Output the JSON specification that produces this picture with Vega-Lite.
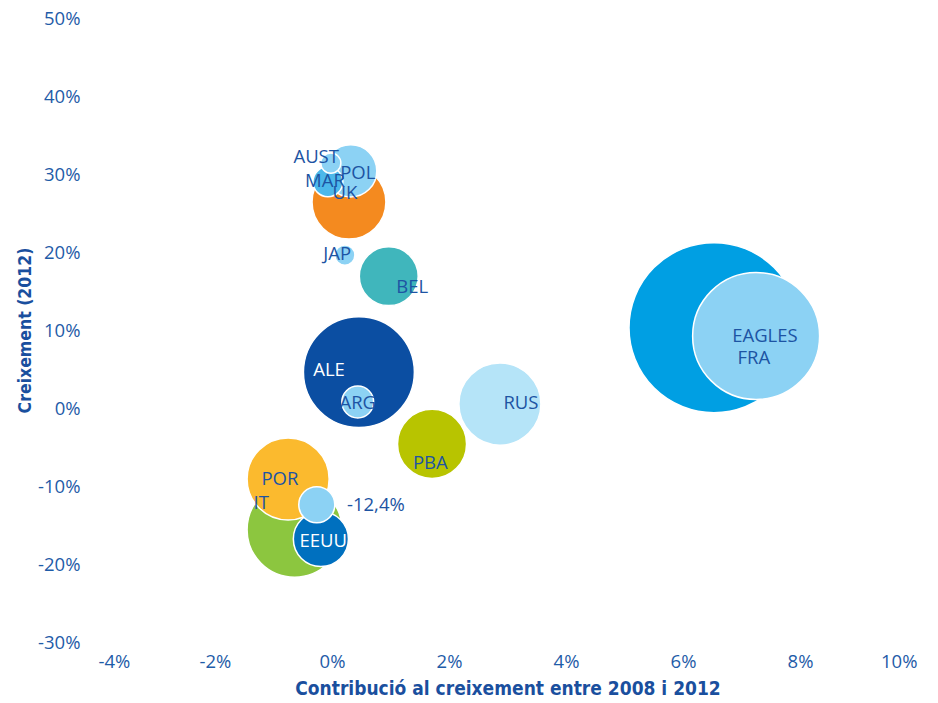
{
  "$schema": "https://vega.github.io/schema/vega-lite/v6.json",
  "width": 819,
  "height": 624,
  "autosize": {"type": "none"},
  "padding": {"left": 98, "top": 18, "right": 21, "bottom": 61},
  "background": "white",
  "config": {
    "view": {"stroke": null},
    "axis": {"grid": false, "domain": false, "ticks": false, "labelFont": "Open Sans", "labelFontSize": 18.5, "labelColor": "#1f5ca8", "titleFont": "DejaVu Sans Condensed", "titleFontWeight": "bold", "titleColor": "#1a4f9e"}
  },
  "datasets": {
    "bubbles": [
      {"name": "EAGLES", "x": 6.53, "y": 10.3, "pes": 100, "lx": 7.4, "ly": 9.23, "label": "EAGLES"},
      {"name": "FRA", "x": 7.25, "y": 9.23, "pes": 55.8, "lx": 7.21, "ly": 6.41, "label": "FRA"},
      {"name": "ALE", "x": 0.46, "y": 4.6, "pes": 42.6, "lx": -0.05, "ly": 4.87, "label": "ALE"},
      {"name": "IT", "x": -0.64, "y": -15.6, "pes": 31.2, "lx": -1.21, "ly": -12.2, "label": "IT"},
      {"name": "RUS", "x": 2.87, "y": 0.5, "pes": 23.3, "lx": 3.23, "ly": 0.64, "label": "RUS"},
      {"name": "POR", "x": -0.75, "y": -9.1, "pes": 23.3, "lx": -0.89, "ly": -9.1, "label": "POR"},
      {"name": "UK", "x": 0.29, "y": 26.4, "pes": 18.9, "lx": 0.22, "ly": 27.6, "label": "UK"},
      {"name": "PBA", "x": 1.71, "y": -4.6, "pes": 16.5, "lx": 1.68, "ly": -7.05, "label": "PBA"},
      {"name": "BEL", "x": 0.97, "y": 16.9, "pes": 12.0, "lx": 1.37, "ly": 15.5, "label": "BEL"},
      {"name": "EEUU", "x": -0.19, "y": -16.8, "pes": 10.5, "lx": -0.15, "ly": -17.05, "label": "EEUU"},
      {"name": "POL", "x": 0.32, "y": 30.4, "pes": 9.4, "lx": 0.44, "ly": 30.1, "label": "POL"},
      {"name": "ESP", "x": -0.26, "y": -12.4, "pes": 4.5, "lx": 0.75, "ly": -12.4, "label": "-12,4%"},
      {"name": "ARG", "x": 0.44, "y": 0.77, "pes": 3.5, "lx": 0.44, "ly": 0.64, "label": "ARG"},
      {"name": "MAR", "x": -0.07, "y": 29.0, "pes": 3.1, "lx": -0.12, "ly": 29.1, "label": "MAR"},
      {"name": "JAP", "x": 0.22, "y": 19.6, "pes": 1.4, "lx": 0.09, "ly": 19.7, "label": "JAP"},
      {"name": "AUST", "x": -0.02, "y": 31.4, "pes": 1.4, "lx": -0.27, "ly": 32.2, "label": "AUST"}
    ]
  },
  "layer": [
    {
      "mark": {"type": "rule", "color": "#2b62ad", "strokeWidth": 1.3},
      "encoding": {"x": {"datum": 0, "type": "quantitative", "scale": {"domain": [-4, 10]}}}
    },
    {
      "mark": {"type": "rule", "color": "#2b62ad", "strokeWidth": 1.3},
      "encoding": {"y": {"datum": 0, "type": "quantitative", "scale": {"domain": [-30, 50]}}}
    },
    {
      "data": {"name": "bubbles"},
      "mark": {"type": "circle", "opacity": 1, "stroke": "white", "strokeWidth": 1.5},
      "encoding": {
        "x": {"field": "x", "type": "quantitative", "scale": {"domain": [-4, 10], "nice": false, "zero": false}, "axis": {"values": [-4, -2, 0, 2, 4, 6, 8, 10], "labelExpr": "datum.value + '%'", "labelPadding": 10, "title": "Contribució al creixement entre 2008  i 2012", "titleFontSize": 19, "titlePadding": 9}},
        "y": {"field": "y", "type": "quantitative", "scale": {"domain": [-30, 50], "nice": false, "zero": false}, "axis": {"values": [-30, -20, -10, 0, 10, 20, 30, 40, 50], "labelExpr": "datum.value + '%'", "labelPadding": 18, "title": "Creixement (2012)", "titleFontSize": 17.5, "titlePadding": 3}},
        "size": {"field": "pes", "type": "quantitative", "scale": {"domain": [0, 100], "range": [0, 28900]}, "legend": null},
        "color": {"field": "name", "type": "nominal", "legend": null, "scale": {
          "domain": ["EAGLES", "FRA", "ALE", "IT", "RUS", "POR", "UK", "PBA", "BEL", "EEUU", "POL", "ESP", "ARG", "MAR", "JAP", "AUST"],
          "range": ["#009fe3", "#8cd2f4", "#0b4ea2", "#8cc63f", "#b5e4f8", "#fbba2e", "#f48a1f", "#b8c400", "#40b6bc", "#0070bf", "#8cd2f4", "#8cd2f4", "#8cd2f4", "#4cb8ea", "#8cd2f4", "#8cd2f4"]}}
      }
    },
    {
      "data": {"name": "bubbles"},
      "mark": {"type": "text", "font": "Open Sans", "fontSize": 18.5, "align": "center", "baseline": "middle"},
      "encoding": {
        "x": {"field": "lx", "type": "quantitative"},
        "y": {"field": "ly", "type": "quantitative"},
        "text": {"field": "label"},
        "color": {"condition": {"test": "datum.name === 'ALE' || datum.name === 'EEUU'", "value": "white"}, "value": "#1d54a3"}
      }
    }
  ]
}
